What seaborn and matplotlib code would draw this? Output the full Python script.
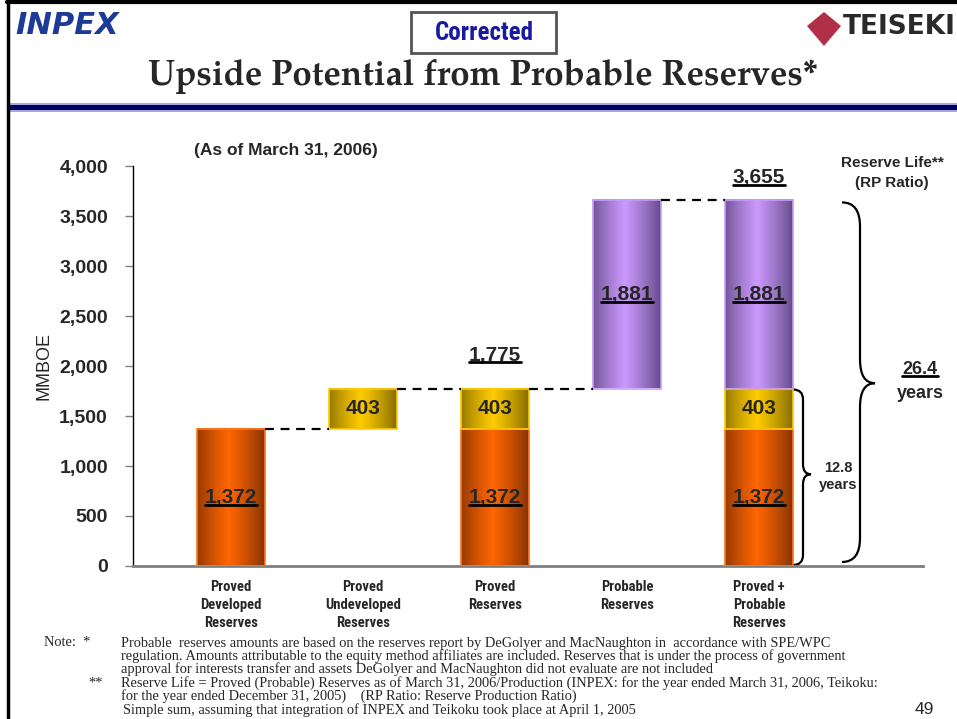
import numpy as np
import pandas as pd
import matplotlib
matplotlib.use("Agg")
import matplotlib.pyplot as plt
import seaborn as sns
from matplotlib.lines import Line2D
from matplotlib.patches import Rectangle, Polygon
from matplotlib.path import Path
from matplotlib.patches import PathPatch
from matplotlib.transforms import IdentityTransform

# chart data (MMBOE, as of March 31, 2006)
categories = ["Proved\nDeveloped\nReserves", "Proved\nUndeveloped\nReserves",
              "Proved\nReserves", "Probable\nReserves",
              "Proved +\nProbable\nReserves"]
developed = [1372, 0, 1372, 0, 1372]
undeveloped = [0, 403, 403, 0, 403]
probable = [0, 0, 0, 1881, 1881]
float_base = [0, 1372, 0, 1775, 0]
total_labels = {2: "1,775", 4: "3,655"}
life_proved = "12.8"
life_total = "26.4"
yticks = [0, 500, 1000, 1500, 2000, 2500, 3000, 3500, 4000]

notes = [
    "Probable  reserves amounts are based on the reserves report by DeGolyer and MacNaughton in  accordance with SPE/WPC",
    "regulation. Amounts attributable to the equity method affiliates are included. Reserves that is under the process of government",
    "approval for interests transfer and assets DeGolyer and MacNaughton did not evaluate are not included",
    "Reserve Life = Proved (Probable) Reserves as of March 31, 2006/Production (INPEX: for the year ended March 31, 2006, Teikoku:",
    "for the year ended December 31, 2005)    (RP Ratio: Reserve Production Ratio)",
    "Simple sum, assuming that integration of INPEX and Teikoku took place at April 1, 2005",
]

df = pd.DataFrame({"category": categories, "developed": developed,
                   "undeveloped": undeveloped, "probable": probable,
                   "base": float_base})
df["bottom_dev"] = df["base"]
df["bottom_und"] = df["base"] + df["developed"]
df["bottom_prob"] = df["bottom_und"] + df["undeveloped"]
df["top"] = df["bottom_prob"] + df["probable"]

sns.set_style("white")
plt.rcParams["font.family"] = ["Liberation Sans", "DejaVu Sans"]
NARROW = ["Roboto Condensed", "PT Sans Narrow", "Liberation Sans"]
TITLE_SERIF = ["TeX Gyre Pagella", "P052", "URW Palladio L", "DejaVu Serif"]

W, H = 957, 719
fig = plt.figure(figsize=(W / 100, H / 100), dpi=100)


def fx(px):
    return px / W


def fy(py):
    return 1 - py / H


ax = fig.add_axes([fx(133), fy(566), fx(923) - fx(133), fy(166) - fy(566)])

layers = [
    ("developed", "bottom_dev", "#803000", "#ff6600", "#ff7a1a", True),
    ("undeveloped", "bottom_und", "#806800", "#ffcc00", "#ffcc00", False),
    ("probable", "bottom_prob", "#5e4880", "#cc99ff", "#cc99ff", True),
]

bar_w = 0.51
for col, bcol, c_edge, c_mid, c_line, underline in layers:
    sns.barplot(data=df, x="category", y=col, bottom=df[bcol].values,
                width=bar_w, color=c_mid, errorbar=None, ax=ax,
                linewidth=1.2, edgecolor=c_line, zorder=3)

# horizontal gradient inside each bar
grad_t = np.linspace(0, 1, 200)
profile = 1 - np.abs(grad_t - 0.47) / 0.53
profile = np.clip(profile, 0, 1) ** 0.8
labels_to_underline = []
for (col, bcol, c_edge, c_mid, c_line, underline), cont in zip(layers, ax.containers):
    e = np.array(matplotlib.colors.to_rgb(c_edge))
    m = np.array(matplotlib.colors.to_rgb(c_mid))
    img = e[None, :] + (m - e)[None, :] * profile[:, None]
    for i, p in enumerate(cont.patches):
        h = p.get_height()
        if h <= 0:
            p.set_visible(False)
            continue
        x0, y0, w = p.get_x(), p.get_y(), p.get_width()
        ax.imshow(img[None, :, :], extent=[x0, x0 + w, y0, y0 + h],
                  aspect="auto", zorder=2, interpolation="bilinear")
        p.set_facecolor("none")
        t = ax.text(x0 + w / 2, y0 + h / 2, f"{int(h):,}", ha="center",
                    va="center", fontsize=15, fontweight="bold", zorder=5)
        if underline:
            labels_to_underline.append(t)

# dashed connectors between bars
centers = np.arange(len(categories))
for i in range(len(categories) - 1):
    lvl = df["top"].iloc[i]
    ax.plot([centers[i] + bar_w / 2, centers[i + 1] - bar_w / 2], [lvl, lvl],
            color="black", lw=1.6, ls=(0, (4, 3)), zorder=4)

# totals above bars
for i, txt in total_labels.items():
    off = 335 if i == 2 else 225
    t = ax.text(centers[i], df["top"].iloc[i] + off, txt, ha="center",
                va="center", fontsize=15, fontweight="bold")
    labels_to_underline.append(t)


def brace(x0, x1, x2, ytop, ybot, ymid, ry):
    verts = [(x0, ytop), (x1, ytop), (x1, ytop - ry),
             (x1, ymid + ry), (x1, ymid), (x2, ymid),
             (x1, ymid), (x1, ymid - ry),
             (x1, ybot + ry), (x1, ybot), (x0, ybot)]
    codes = [Path.MOVETO, Path.CURVE3, Path.CURVE3,
             Path.LINETO, Path.CURVE3, Path.CURVE3,
             Path.CURVE3, Path.CURVE3,
             Path.LINETO, Path.CURVE3, Path.CURVE3]
    ax.add_patch(PathPatch(Path(verts, codes), fill=False, lw=1.6,
                           color="black", clip_on=False))


def xd(px):
    return (px - 231) / 132.0


top_all = df["top"].iloc[4]
proved_top = df["bottom_prob"].iloc[4]
brace(xd(842), xd(860), xd(875), top_all - 20, 40, top_all / 2, 240)
brace(xd(793), xd(803), xd(811), proved_top - 10, 10, proved_top / 2 + 30, 100)

ax.text(xd(838), 980, life_proved, ha="center", va="center", fontsize=10.5,
        fontweight="bold")
ax.text(xd(838), 810, "years", ha="center", va="center", fontsize=10.5,
        fontweight="bold")
t = ax.text(xd(920), 1960, life_total, ha="center", va="center", fontsize=13,
            fontweight="bold")
labels_to_underline.append(t)
ax.text(xd(920), 1730, "years", ha="center", va="center", fontsize=13,
        fontweight="bold")
ax.text(xd(892), 4030, "Reserve Life**", ha="center", va="center",
        fontsize=11, fontweight="bold")
ax.text(xd(892), 3830, "(RP Ratio)", ha="center", va="center",
        fontsize=11, fontweight="bold")
ax.text(xd(286), 4160, "(As of March 31, 2006)", ha="center", va="center",
        fontsize=12.5, fontweight="bold")

# axes styling
ax.set_xlim(xd(133), xd(923))
ax.set_ylim(0, 4000)
ax.set_yticks(yticks)
ax.set_yticklabels([f"{v:,}" for v in yticks], fontsize=14, fontweight="bold")
ax.set_xticks(centers)
ax.set_xticklabels(categories, fontsize=10.5, fontweight="bold",
                   family=NARROW, linespacing=1.35)
ax.tick_params(axis="x", length=0, pad=10)
ax.tick_params(axis="y", length=6, width=1, color="#808080", pad=12, left=True)
ax.set_xlabel("")
ax.set_ylabel("MMBOE", fontsize=13, labelpad=5)
for s in ["top", "right"]:
    ax.spines[s].set_visible(False)
ax.spines["left"].set_color("black")
ax.spines["left"].set_linewidth(1)
ax.spines["bottom"].set_color("#808080")
ax.spines["bottom"].set_linewidth(2)
ax.set_facecolor("white")

# header
fig.add_artist(Line2D([fx(7), 1], [fy(2), fy(2)], color="black", lw=3))
fig.add_artist(Line2D([fx(8), fx(8)], [0, fy(1)], color="black", lw=2.5))
fig.add_artist(Rectangle((fx(8), fy(111.5)), 1 - fx(8), fy(103.5) - fy(111.5),
                         color="#a8a8d8", lw=0))
fig.add_artist(Rectangle((fx(8), fy(110)), 1 - fx(8), fy(105) - fy(110),
                         color="#000066", lw=0))

fig.text(fx(15), fy(26), "INPEX", fontsize=22, fontweight="bold",
         style="italic", color="#1c3a96", family=["DejaVu Sans"],
         va="center", ha="left")
fig.add_artist(Rectangle((fx(411), fy(53)), fx(556) - fx(411), fy(12) - fy(53),
                         fill=False, edgecolor="#555555", lw=2))
fig.text(fx(484), fy(33), "Corrected", fontsize=18, fontweight="bold",
         color="#1a1aa0", family=NARROW, ha="center", va="center")
title = fig.text(fx(483), fy(76), "Upside Potential from Probable Reserves*",
                 fontsize=20.5, fontweight="bold", family=TITLE_SERIF,
                 ha="center", va="center")

fig.add_artist(Polygon([[fx(824), fy(12)], [fx(841), fy(26)], [fx(824), fy(46)],
                        [fx(807), fy(26)]], closed=True, color="#b22f48", lw=0))
fig.text(fx(843), fy(27), "TEISEKI", fontsize=19, fontweight="bold",
         color="#2a2a2a", family=["DejaVu Sans"], ha="left", va="center")

# footnotes
note_y = [643, 656, 669, 683, 696, 710]
note_x = [121, 121, 121, 121, 121, 123]
serif = ["Liberation Serif", "DejaVu Serif"]
fig.text(fx(44), fy(643), "Note:  *", fontsize=10.4, family=serif, va="center")
fig.text(fx(88), fy(683), "**", fontsize=10.4, family=serif, va="center")
for x, y, line in zip(note_x, note_y, notes):
    fig.text(fx(x), fy(y), line, fontsize=10.4, family=serif, va="center")
fig.text(fx(915), fy(709), "49", fontsize=12.5, va="center")

# fit the title to the reference width (148..818 px)
fig.canvas.draw()
r = fig.canvas.get_renderer()
tw = title.get_window_extent(r).width
title.set_fontsize(20.5 * 670 / tw)

# underlines under selected labels
fig.canvas.draw()
for t in labels_to_underline:
    bb = t.get_window_extent(r)
    yy = bb.y0 + 0.12 * bb.height
    fig.add_artist(Line2D([bb.x0, bb.x1], [yy, yy], color="black", lw=2,
                          transform=IdentityTransform()))

fig.savefig("out.png", dpi=100, facecolor="white")
